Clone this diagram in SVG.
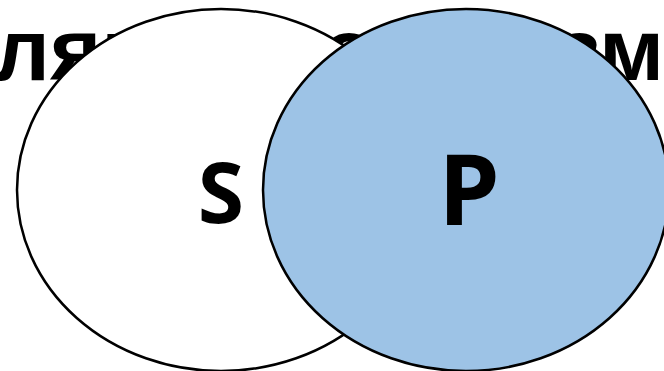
<svg xmlns="http://www.w3.org/2000/svg" width="664" height="371" viewBox="0 0 664 371">
<style>
.bg{font-family:"Liberation Sans",Arial,sans-serif;font-weight:bold;font-size:88px;fill:#000}
.lbl{font-family:"Open Sans","Liberation Sans",sans-serif;font-weight:bold;fill:#000;text-anchor:middle}
.circ{stroke:#000;stroke-width:2.5}
</style>
<rect width="664" height="371" fill="#fff"/>
<g id="title">
<text class="bg" x="-6" y="80">ляю</text>
<text class="bg" x="322" y="80">о</text>
<text class="bg" x="664" y="80" text-anchor="end">зм</text>
</g>
<g id="S">
<ellipse class="circ" cx="221" cy="190" rx="204" ry="181" fill="#fff"/>
<text class="lbl" x="221" y="223" font-size="84">S</text>
</g>
<g id="P">
<ellipse class="circ" cx="466" cy="190" rx="203" ry="181" fill="#9DC3E6"/>
<text class="lbl" x="469" y="225" font-size="98">P</text>
</g>
</svg>
